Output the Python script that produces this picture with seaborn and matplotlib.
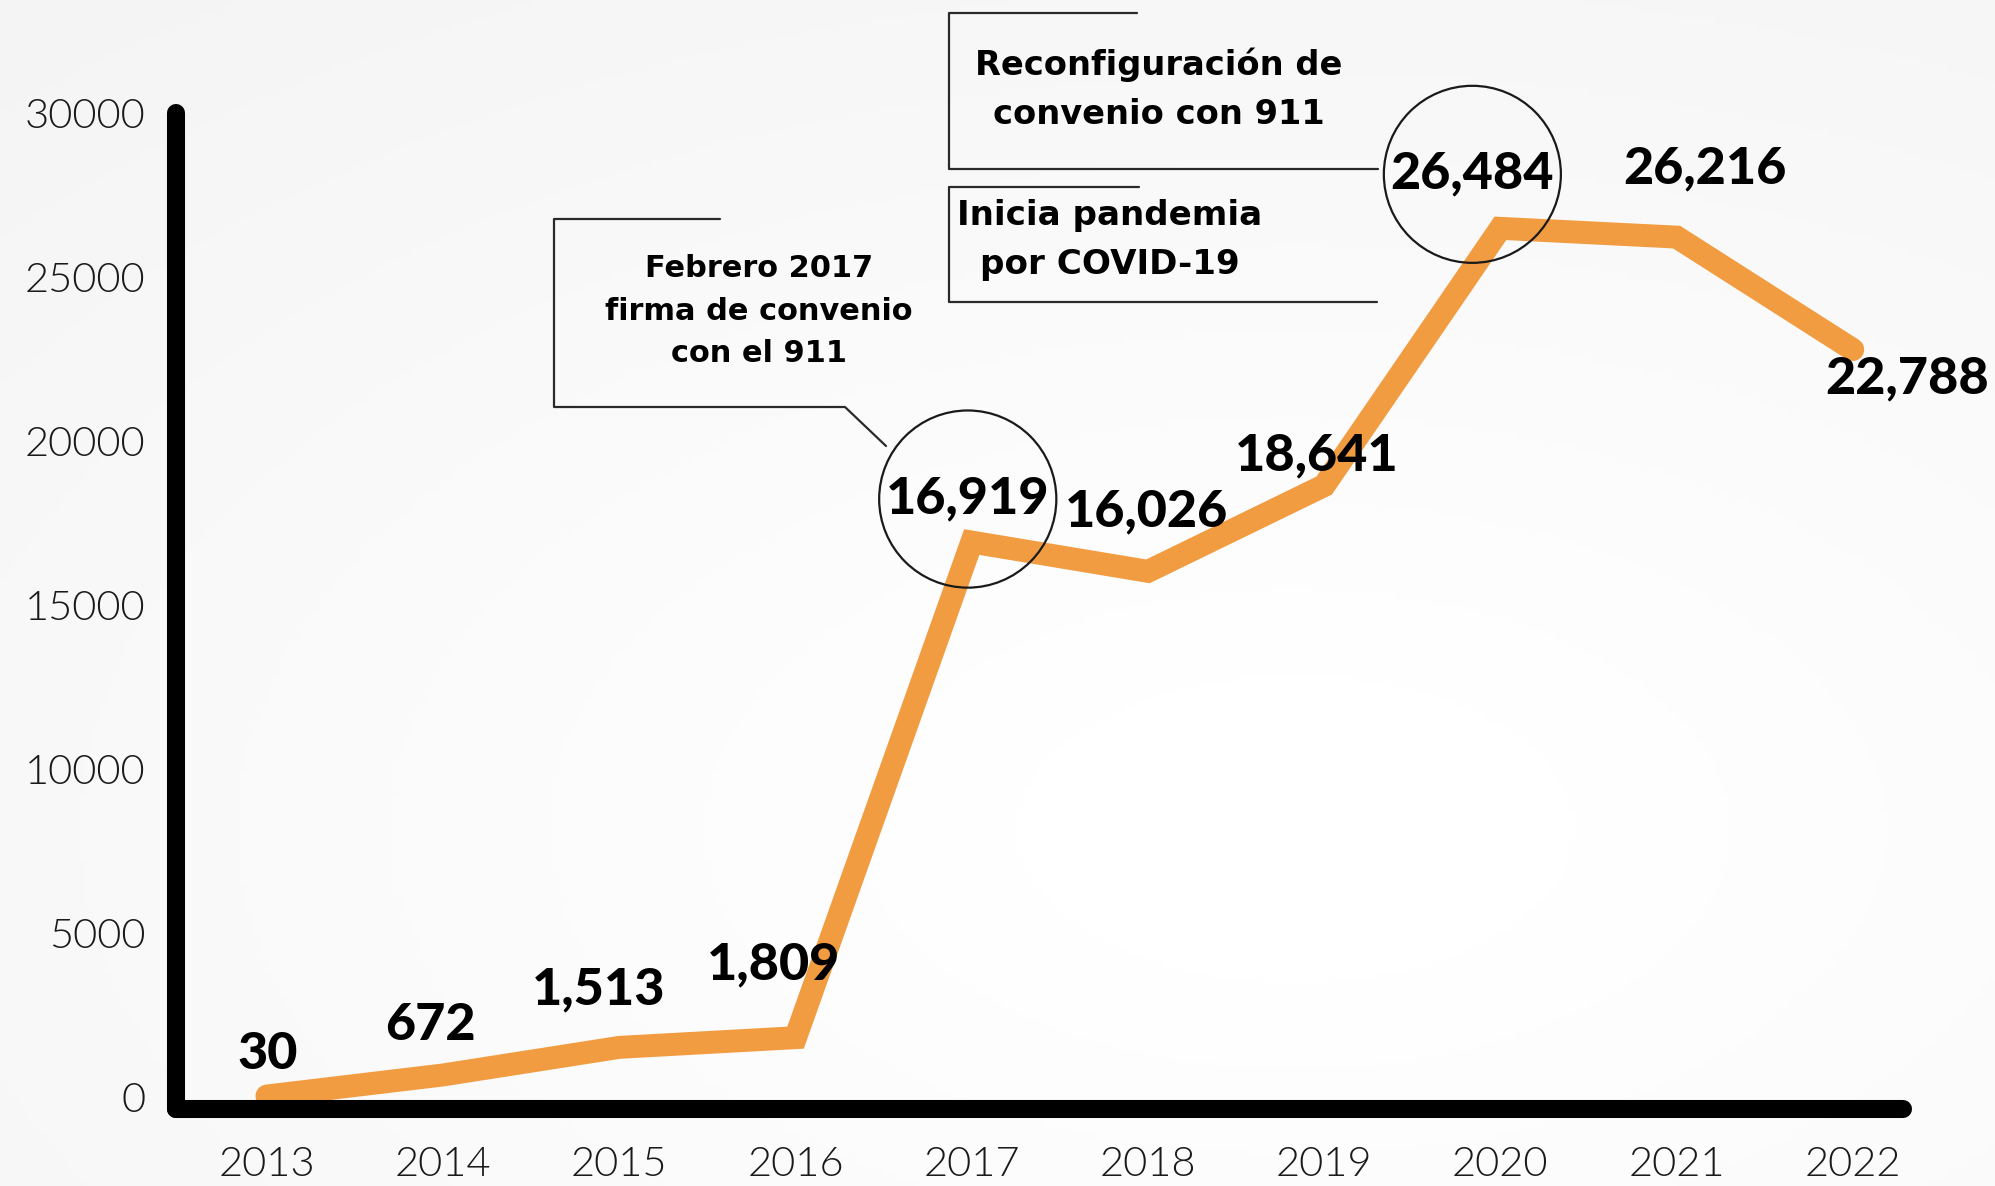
import numpy as np
import matplotlib
matplotlib.use("Agg")
import matplotlib.pyplot as plt
import seaborn as sns
from matplotlib.lines import Line2D

# ---------------- data ----------------
years = [2013, 2014, 2015, 2016, 2017, 2018, 2019, 2020, 2021, 2022]
values = [30, 672, 1513, 1809, 16919, 16026, 18641, 26484, 26216, 22788]
value_labels = ["30", "672", "1,513", "1,809", "16,919", "16,026",
                "18,641", "26,484", "26,216", "22,788"]
y_ticks = [0, 5000, 10000, 15000, 20000, 25000, 30000]
circled_years = [2017, 2020]
note_reconfig = "Reconfiguración de\nconvenio con 911"
note_covid = "Inicia pandemia\npor COVID-19"
note_firma = "Febrero 2017\nfirma de convenio\ncon el 911"

# ---------------- style ----------------
sns.set_theme(style="white")
plt.rcParams["font.family"] = ["Lato", "DejaVu Sans"]

W, H = 1995, 1186
fig = plt.figure(figsize=(W / 100, H / 100), dpi=100)


def fx(x):
    return x / W


def fy(y):
    return 1 - y / H


# subtle background gradient
bg = fig.add_axes([0, 0, 1, 1], zorder=-10)
xx, yy = np.meshgrid(np.linspace(0, 1, 300), np.linspace(0, 1, 200))
d = np.sqrt(((xx - 0.65) / 0.7) ** 2 + ((yy - 0.7) / 0.65) ** 2)
shade = 1 - 0.035 * np.clip(d - 0.2, 0, 1.3)
bg.imshow(np.dstack([shade, shade, shade]), aspect="auto", extent=[0, 1, 0, 1])
bg.axis("off")

ax = fig.add_axes([fx(176), 1 - 1109 / H, fx(1903) - fx(176), (1109 - 113) / H])
ax.set_facecolor("none")

orange = "#F29C41"
sns.lineplot(x=years, y=values, ax=ax, color=orange, linewidth=16.5,
             solid_capstyle="round", solid_joinstyle="miter")

ax.set_xlim(2012.484, 2022.285)
ax.set_ylim(-366, 30000)

for s in ["top", "right"]:
    ax.spines[s].set_visible(False)
for s in ["left", "bottom"]:
    ax.spines[s].set_linewidth(13)
    ax.spines[s].set_color("black")
    ax.spines[s].set_capstyle("round")

ax.set_xticks(years)
ax.set_xticklabels([str(y) for y in years])
ax.set_yticks(y_ticks)
ax.set_yticklabels([str(v) for v in y_ticks])
ax.tick_params(axis="both", length=0, labelsize=30, colors="#1a1a1a",
               labelcolor="#1a1a1a")
ax.tick_params(axis="x", pad=27)
ax.tick_params(axis="y", pad=22)
for lbl in ax.get_xticklabels() + ax.get_yticklabels():
    lbl.set_fontweight(300)
    lbl.set_color("#1a1a1a")
ax.set_xlabel("")
ax.set_ylabel("")
ax.grid(False)

# value labels
offsets = [(1, 42), (-13, 49), (-21, 57), (-22, 73), (-4, 43),
           (-1, 59), (-7, 30), (-28, 54), (28, 68), (54, -29)]
for yr, v, lab, off in zip(years, values, value_labels, offsets):
    kw = {}
    if yr in circled_years:
        kw["bbox"] = dict(boxstyle="circle,pad=0.13", fc="none",
                          ec="#1a1a1a", lw=1.6)
    ax.annotate(lab, xy=(yr, v), xytext=off, textcoords="offset pixels",
                ha="center", va="center", fontsize=37.5, fontweight="black",
                color="black", zorder=6, annotation_clip=False, **kw)

# callout frames
line_kw = dict(color="#2a2a2a", lw=1.6, transform=fig.transFigure)
frames = [
    [(1137, 13), (949, 13), (949, 169), (1378, 169)],
    [(1139, 187), (949, 187), (949, 302), (1377, 302)],
    [(720, 219), (554, 219), (554, 407), (845, 407), (886, 446)],
]
for fr in frames:
    xs = [fx(p[0]) for p in fr]
    ys = [fy(p[1]) for p in fr]
    fig.add_artist(Line2D(xs, ys, **line_kw))

txt_kw = dict(ha="center", va="center", fontweight="bold",
              color="black", multialignment="center",
              family=["DejaVu Sans"])
fig.text(fx(1159), fy(89), note_reconfig, fontsize=24.2, linespacing=1.62, **txt_kw)
fig.text(fx(1110), fy(240), note_covid, fontsize=24.6, linespacing=1.62, **txt_kw)
fig.text(fx(759), fy(311), note_firma, fontsize=21.9, linespacing=1.6, **txt_kw)

fig.savefig("out.png", dpi=100)
